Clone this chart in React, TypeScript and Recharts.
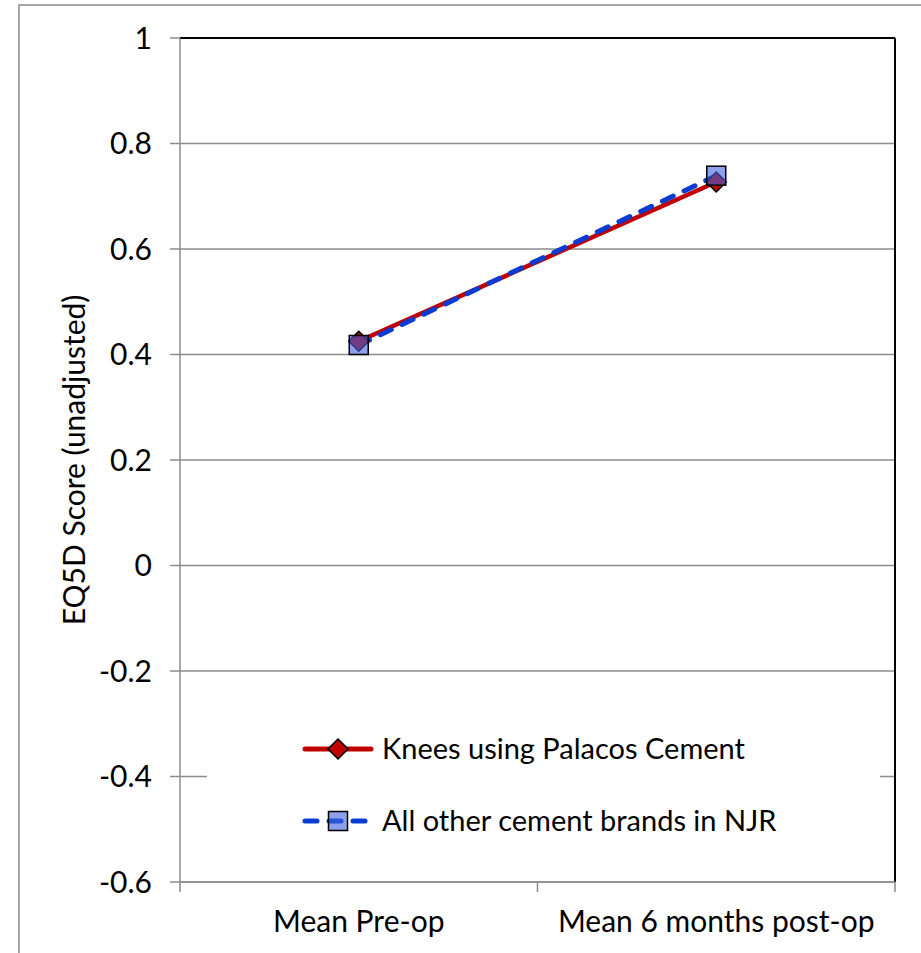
import React from "react"
import { LineChart, Line, XAxis, YAxis, CartesianGrid, Legend, ReferenceLine } from "recharts"

const categories = ["Mean Pre-op", "Mean 6 months post-op"]
const palacos = [0.425, 0.727]
const others = [0.418, 0.739]
const yTicks = [-0.6, -0.4, -0.2, 0, 0.2, 0.4, 0.6, 0.8, 1]
const xTicks = [0, 0.5, 1, 1.5, 2]
const seriesNames = ["Knees using Palacos Cement", "All other cement brands in NJR"]

const data = categories.map((c, i) => ({ x: i + 0.5, name: c, palacos: palacos[i], others: others[i] }))

const FONT = "Lato, 'Open Sans', sans-serif"
const RED = "#C00000"
const BLUE = "#0A3CD2"

const Diamond = (props: any) => {
  const { cx, cy } = props
  if (cx == null || cy == null) return null
  const r = 10
  return (
    <polygon
      points={`${cx},${cy - r} ${cx + r},${cy} ${cx},${cy + r} ${cx - r},${cy}`}
      fill={RED}
      stroke="#000"
      strokeWidth={1.5}
    />
  )
}

const Square = (props: any) => {
  const { cx, cy } = props
  if (cx == null || cy == null) return null
  const r = 9.5
  return <rect x={cx - r} y={cy - r} width={r * 2} height={r * 2} fill="#3F63DB" fillOpacity={0.6} stroke="#000" strokeWidth={1.5} />
}

const XTick = (props: any) => {
  const { x, y, payload } = props
  const v = payload.value
  if (Number.isInteger(v)) {
    return <line x1={x} x2={x} y1={y} y2={y + 10} stroke="#888" strokeWidth={1.5} />
  }
  return (
    <text x={x} y={y + 50} textAnchor="middle" fill="#000" fontSize={30} fontFamily={FONT}>
      {categories[Math.floor(v)]}
    </text>
  )
}

const rowText: React.CSSProperties = {
  position: "absolute",
  left: 175,
  height: 36,
  lineHeight: "36px",
  fontSize: 29,
  color: "#000",
  whiteSpace: "nowrap",
}

const renderLegend = () => (
  <div style={{ position: "relative", width: 673, height: 150, background: "#fff", fontFamily: FONT }}>
    <svg width={80} height={36} style={{ position: "absolute", left: 94, top: 31 }}>
      <line x1={4} x2={70} y1={18} y2={18} stroke={RED} strokeWidth={5} strokeLinecap="round" />
      <Diamond cx={37} cy={18} />
    </svg>
    <div style={{ ...rowText, top: 30 }}>{seriesNames[0]}</div>
    <svg width={80} height={36} style={{ position: "absolute", left: 94, top: 103 }}>
      <line x1={4} x2={70} y1={18} y2={18} stroke={BLUE} strokeWidth={5} strokeLinecap="round" strokeDasharray="12 12" />
      <Square cx={37} cy={18} />
    </svg>
    <div style={{ ...rowText, top: 102 }}>{seriesNames[1]}</div>
  </div>
)

export default function App() {
  return (
    <div style={{ position: "absolute", left: 0, top: 0, width: 921, height: 953, overflow: "hidden", background: "#fff" }}>
      <div style={{ position: "absolute", left: 18, top: 4, width: 1000, height: 1000, border: "2px solid #A6A6A6" }} />
      <div style={{ position: "absolute", left: 0, top: 0 }}>
        <LineChart width={921} height={953} data={data} margin={{ top: 38, right: 26, bottom: 21, left: 80 }}>
          <CartesianGrid horizontal vertical={false} stroke="#8C8C8C" strokeWidth={1.5} />
          <XAxis
            dataKey="x"
            type="number"
            domain={[0, 2]}
            ticks={xTicks}
            interval={0}
            height={50}
            tickSize={0}
            tickMargin={0}
            tickLine={false}
            axisLine={{ stroke: "#8C8C8C", strokeWidth: 1.5 }}
            tick={<XTick />}
          />
          <YAxis
            type="number"
            domain={[-0.6, 1]}
            ticks={yTicks}
            interval={0}
            width={100}
            tickSize={10}
            tickMargin={18}
            tickFormatter={(v: number) => String(v)}
            tick={{ fill: "#000", fontSize: 30, fontFamily: FONT }}
            tickLine={{ stroke: "#8C8C8C", strokeWidth: 1.5 }}
            axisLine={{ stroke: "#8C8C8C", strokeWidth: 1.5 }}
            label={{
              value: "EQ5D Score (unadjusted)",
              angle: -90,
              position: "insideLeft",
              dx: -11,
              style: { textAnchor: "middle", fill: "#000", fontSize: 30, fontFamily: FONT },
            }}
          />
          <ReferenceLine y={1} stroke="#000" strokeWidth={2} ifOverflow="visible" />
          <ReferenceLine x={2} stroke="#000" strokeWidth={2} ifOverflow="visible" />
          <Legend
            layout="vertical"
            align="center"
            verticalAlign="middle"
            content={renderLegend}
            wrapperStyle={{ position: "absolute", left: 207, top: 700, width: 673, height: 150 }}
          />
          <Line
            type="linear"
            dataKey="palacos"
            name={seriesNames[0]}
            stroke={RED}
            strokeWidth={4.5}
            dot={<Diamond />}
            activeDot={false}
            isAnimationActive={false}
          />
          <Line
            type="linear"
            dataKey="others"
            name={seriesNames[1]}
            stroke={BLUE}
            strokeWidth={5}
            strokeDasharray="12 12"
            strokeLinecap="round"
            dot={<Square />}
            activeDot={false}
            isAnimationActive={false}
          />
        </LineChart>
      </div>
    </div>
  )
}
